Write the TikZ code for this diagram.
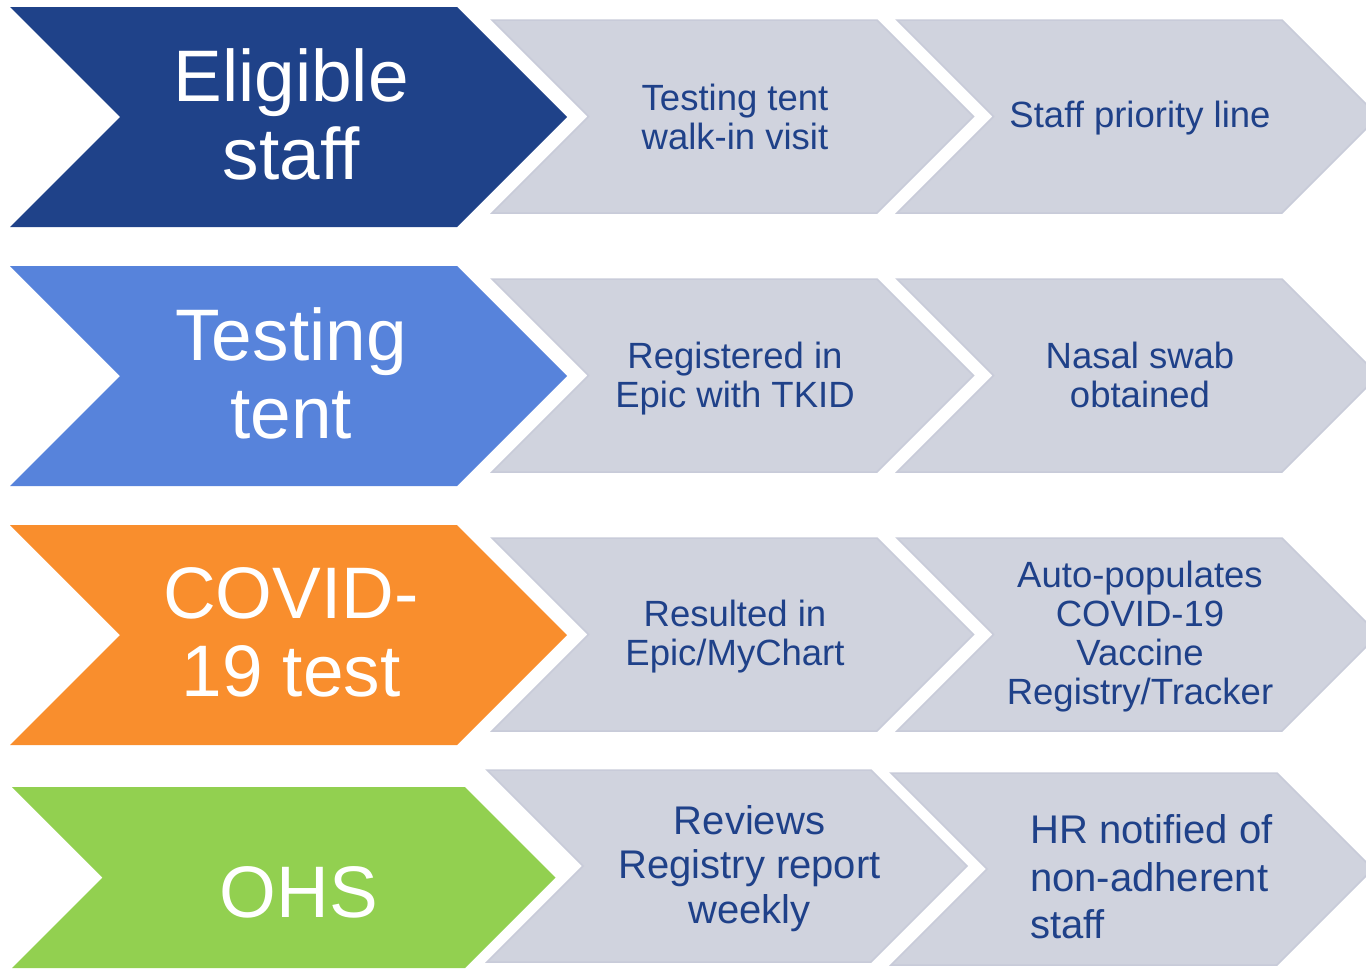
\documentclass[tikz,border=0pt]{standalone}
\usepackage{fontspec}
\setmainfont{Liberation Sans}
\definecolor{dblue}{HTML}{1F4289}
\definecolor{mblue}{HTML}{5783DB}
\definecolor{orng}{HTML}{F98E2D}
\definecolor{grn}{HTML}{92D050}
\definecolor{grayfill}{HTML}{D0D3DE}
\definecolor{grayline}{HTML}{C8CBD9}
\definecolor{txtblue}{HTML}{1F4189}
\tikzset{
  bigtxt/.style={text=white, font=\fontsize{73}{78}\selectfont, align=center, inner sep=0pt},
  graytxt/.style={text=txtblue, font=\fontsize{36.5}{39}\selectfont, align=center, inner sep=0pt},
  graytxtb/.style={text=txtblue, font=\fontsize{40}{44.5}\selectfont, align=center, inner sep=0pt},
  graytxtc/.style={text=txtblue, font=\fontsize{40}{47.5}\selectfont, align=left, inner sep=0pt},
  grayshape/.style={fill=grayfill, draw=grayline, line width=1.5pt, line join=miter},
}
% #1 style, #2 left x, #3 top y, #4 flat width, #5 height
\newcommand\chevshape[5][]{%
  \path[#1] (#2,#3) -- ++(#4,0) -- ++(#5/2,#5/2) -- ++(-#5/2,#5/2) -- ++(-#4,0) -- ++(#5/2,-#5/2) -- cycle;}
\begin{document}
\begin{tikzpicture}[x=1pt,y=-1pt]
\useasboundingbox (0,0) rectangle (1366,969);
\clip (0,0) rectangle (1366,969);
% big chevrons
\chevshape[fill=dblue]{10}{7}{447}{220}
\chevshape[fill=mblue]{10}{266}{447}{220}
\chevshape[fill=orng]{10}{525}{447}{220}
\chevshape[fill=grn]{12}{787}{453}{181}
% gray chevrons
\chevshape[grayshape]{492}{20}{385}{193}
\chevshape[grayshape]{897}{20}{385}{193}
\chevshape[grayshape]{492}{279}{385}{193}
\chevshape[grayshape]{897}{279}{385}{193}
\chevshape[grayshape]{492}{538}{385}{193}
\chevshape[grayshape]{897}{538}{385}{193}
\chevshape[grayshape]{487}{770}{384}{192}
\chevshape[grayshape]{891}{773}{386}{192}
% big labels
\node[bigtxt] (elig) at (291,114) {Eligible\\staff};
\node[bigtxt] (tent) at (291,373) {Testing\\tent};
\node[bigtxt] (covid) at (291,632) {COVID-\\19 test};
\node[bigtxt] (ohs) at (299,892) {OHS};
% gray labels
\node[graytxt] (walkin) at (735,116.5) {Testing tent\\walk-in visit};
\node[graytxt] (priority) at (1140,118.5) {Staff priority line};
\node[graytxt] (registered) at (735,378.5) {Registered in\\Epic with TKID};
\node[graytxt] (swab) at (1140,374.5) {Nasal swab\\obtained};
\node[graytxt] (resulted) at (735,637) {Resulted in\\Epic/MyChart};
\node[graytxt] (registry) at (1140,636.5) {Auto-populates\\COVID-19\\Vaccine\\Registry/Tracker};
\node[graytxtb] (reviews) at (749.5,868.5) {Reviews\\Registry report\\weekly};
\node[graytxtc, anchor=west] (hr) at (1030,877) {HR notified of\\non-adherent\\staff};
\end{tikzpicture}
\end{document}
